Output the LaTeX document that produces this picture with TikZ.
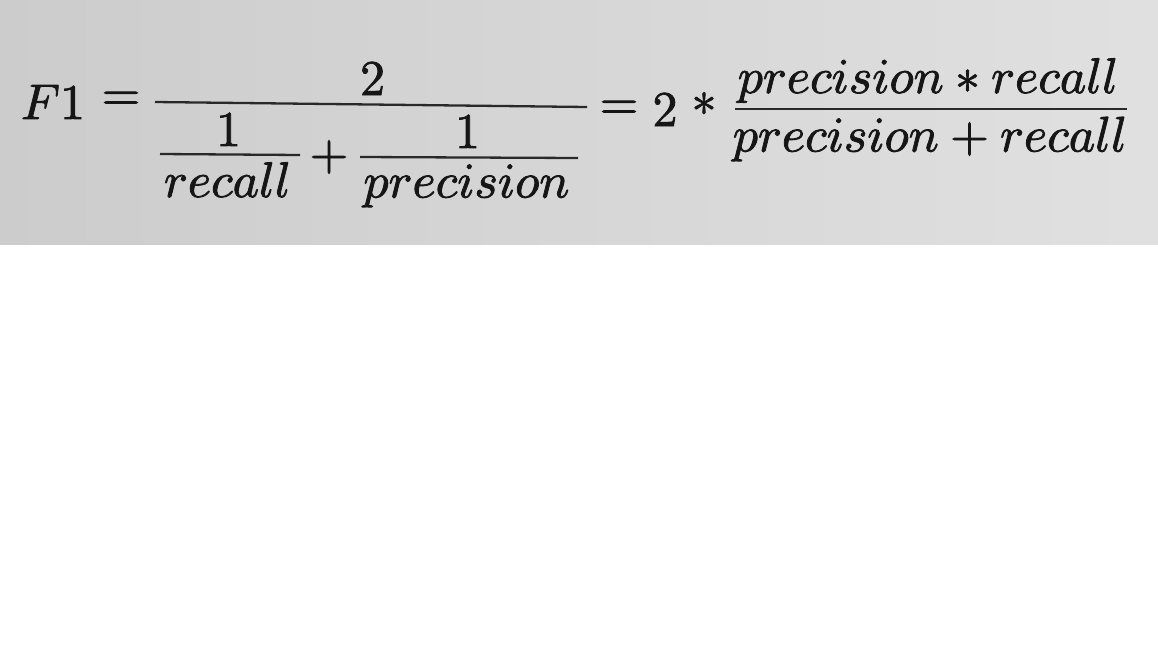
\documentclass[tikz,border=0pt]{standalone}
\usepackage{amsmath}
\usepackage{graphicx}
\definecolor{ink}{RGB}{22,22,22}
\newcommand{\mt}[1]{\scalebox{5}{\special{pdf:literal direct 2 Tr 0.16 w}$#1$\special{pdf:literal direct 0 Tr}}}
\tikzset{
  txt/.style={inner sep=0pt, text=ink, anchor=base},
  sym/.style={inner sep=0pt, text=ink, anchor=center},
  fracbar/.style={draw=ink!92, line width=2.3pt}
}
\begin{document}
\begin{tikzpicture}[x=1pt,y=-1pt]
\useasboundingbox (0,0) rectangle (1158,648);
\fill[white] (0,0) rectangle (1158,648);
\shade[left color=black!20, right color=black!12] (0,0) rectangle (1158,244);
% left side
\node[txt] (f1) at (53,119) {\mt{F1}};
\node[sym] (eq1) at (121,101) {\mt{=}};
\node[txt] (two) at (372.5,95) {\mt{2}};
\coordinate (mb1) at (155,102);
\coordinate (mb2) at (587,107);
\draw[fracbar] (mb1) -- (mb2);
\node[txt] (one1) at (228.5,146) {\mt{1}};
\coordinate (ib1) at (160,154);
\coordinate (ib2) at (300,155);
\draw[fracbar] (ib1) -- (ib2);
\node[txt] (rec1) at (227.5,197) {\mt{recall}};
\node[sym] (plus1) at (329,157) {\mt{+}};
\node[txt] (one2) at (467.5,148) {\mt{1}};
\coordinate (jb1) at (360,157);
\coordinate (jb2) at (578,158);
\draw[fracbar] (jb1) -- (jb2);
\node[txt] (prec1) at (466.5,197.5) {\mt{precision}};
% right side
\node[sym] (eq2) at (619,110) {\mt{=}};
\node[txt] (two2) at (665,126) {\mt{2}};
\node[sym] (ast) at (704,104) {\mt{*}};
\node[txt] (num) at (928,93) {\mt{precision*recall}};
\coordinate (rb1) at (735,109);
\coordinate (rb2) at (1127,109);
\draw[fracbar] (rb1) -- (rb2);
\node[txt] (den) at (930,151.5) {\mt{precision+recall}};
\end{tikzpicture}
\end{document}
